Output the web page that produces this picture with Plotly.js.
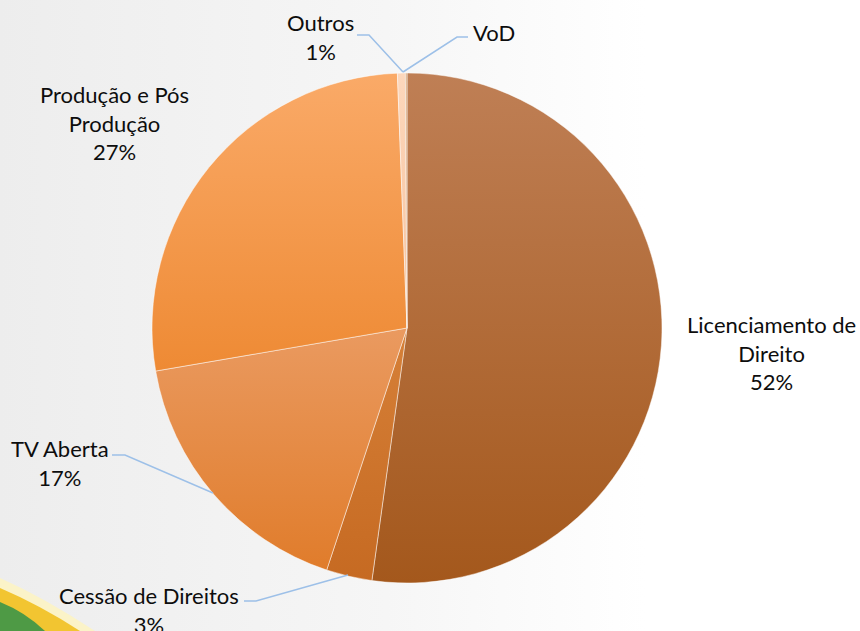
<!DOCTYPE html>
<html>
<head>
<meta charset="utf-8">
<script src="https://cdn.plot.ly/plotly-3.0.1.min.js"></script>
<style>
  html, body { margin: 0; padding: 0; }
  body { width: 860px; height: 631px; overflow: hidden;
         background: linear-gradient(to right, #EDEDED 0%, #F6F6F6 45%, #FFFFFF 75%); }
  #chart { width: 860px; height: 631px; }
</style>
</head>
<body>
<div id="chart"></div>
<script>
// ---- data ----
const categories = ['Licenciamento de Direito', 'Cessão de Direitos', 'TV Aberta', 'Produção e Pós Produção', 'Outros', 'VoD'];
const labelText  = ['Licenciamento de<br>Direito', 'Cessão de Direitos', 'TV Aberta', 'Produção e Pós<br>Produção', 'Outros', 'VoD'];
const shares     = [52.2, 2.9, 17.2, 27.1, 0.5, 0.1];
const showPct    = [true, true, true, true, true, false];

// ---- styles ----
const topColors    = ['#BF7F55', '#D68038', '#EA9A60', '#FAAA68', '#FCD7BC', '#D9A77A'];
const bottomColors = ['#A4581C', '#C66A22', '#E07C2B', '#EE8A34', '#F7C29C', '#C98B55'];
const midColors    = ['#B0662D', '#CE752C', '#E58A44', '#F59B4E', '#FACDAC', '#D19966'];

const W = 860, H = 631;
const px = (x) => x / W;
const py = (y) => 1 - y / H;

const total = shares.reduce((a, b) => a + b, 0);
const pctText = shares.map(v => Math.round(v / total * 100) + '%');

const trace = {
  type: 'pie',
  labels: categories,
  values: shares,
  sort: false,
  direction: 'clockwise',
  rotation: 0,
  textinfo: 'none',
  hoverinfo: 'label+percent',
  showlegend: false,
  marker: { colors: midColors, line: { color: 'rgba(255,255,255,0.6)', width: 0.8 } },
  domain: { x: [px(152), px(662)], y: [py(583), py(73)] }
};

// label placements (pixel centres) and leader lines
const labelPos = [
  [771, 353], [149, 610], [60, 463], [115, 123], [320, 37], [494, 33]
];
const annotations = categories.map((c, i) => ({
  xref: 'paper', yref: 'paper',
  x: px(labelPos[i][0]), y: py(labelPos[i][1]),
  xanchor: 'center', yanchor: 'middle',
  text: labelText[i] + (showPct[i] ? '<br>' + pctText[i] : ''),
  showarrow: false,
  align: 'center',
  font: { family: 'Lato, "Open Sans", sans-serif', size: 22, color: '#0D0D0D' }
}));

function pathPx(points) {
  return 'M ' + points.map(p => px(p[0]) + ',' + py(p[1])).join(' L ');
}
const leaderColor = '#9DC0E8';
const leaders = [
  [[357, 35], [369, 35], [403, 72]],
  [[403, 72], [457, 37], [468, 37]],
  [[112, 455], [125, 455], [213, 493]],
  [[244, 601], [256, 601], [348, 575]]
].map(pts => ({
  type: 'path', xref: 'paper', yref: 'paper', path: pathPx(pts),
  line: { color: leaderColor, width: 1.5 }, layer: 'above'
}));

// decorative swoosh in the bottom-left corner
function curvePx(d) {
  return d.map(seg => seg[0] + ' ' + seg.slice(1).map(p => px(p[0]) + ',' + py(p[1])).join(' ')).join(' ') + ' Z';
}
const deco = [
  { path: curvePx([['M', [0, 578]], ['Q', [45, 598], [95, 631]], ['L', [0, 631]]]), fill: '#FBF3C8' },
  { path: curvePx([['M', [0, 588]], ['Q', [40, 605], [80, 631]], ['L', [0, 631]]]), fill: '#F2C531' },
  { path: curvePx([['M', [0, 602]], ['Q', [25, 612], [45, 631]], ['L', [0, 631]]]), fill: '#4E9A45' }
].map(s => ({ type: 'path', xref: 'paper', yref: 'paper', path: s.path,
  fillcolor: s.fill, line: { width: 0 }, layer: 'below' }));

const layout = {
  width: W, height: H,
  margin: { l: 0, r: 0, t: 0, b: 0 },
  paper_bgcolor: 'rgba(0,0,0,0)',
  plot_bgcolor: 'rgba(0,0,0,0)',
  annotations: annotations,
  shapes: deco.concat(leaders)
};

Plotly.newPlot('chart', [trace], layout, { displayModeBar: false, staticPlot: true }).then(gd => {
  const svg = gd.querySelector('svg.main-svg');
  const NS = 'http://www.w3.org/2000/svg';
  let defs = svg.querySelector('defs');
  if (!defs) { defs = document.createElementNS(NS, 'defs'); svg.insertBefore(defs, svg.firstChild); }
  topColors.forEach((c, i) => {
    const g = document.createElementNS(NS, 'linearGradient');
    g.setAttribute('id', 'sliceGrad' + i);
    g.setAttribute('x1', '0'); g.setAttribute('y1', '0');
    g.setAttribute('x2', '0'); g.setAttribute('y2', '1');
    const s1 = document.createElementNS(NS, 'stop');
    s1.setAttribute('offset', '0'); s1.setAttribute('stop-color', c);
    const s2 = document.createElementNS(NS, 'stop');
    s2.setAttribute('offset', '1'); s2.setAttribute('stop-color', bottomColors[i]);
    g.appendChild(s1); g.appendChild(s2); defs.appendChild(g);
  });
  gd.querySelectorAll('g.slice').forEach((sl, i) => {
    const p = sl.querySelector('path.surface');
    if (p) p.style.fill = 'url(#sliceGrad' + i + ')';
  });
});
</script>
</body>
</html>
